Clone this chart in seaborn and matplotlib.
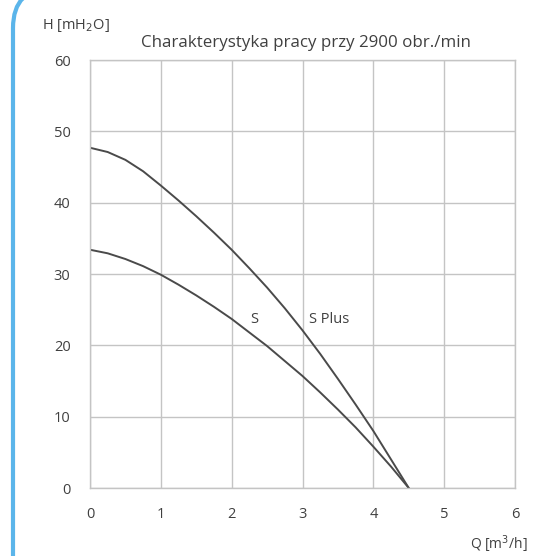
import numpy as np
import pandas as pd
import matplotlib
matplotlib.use('Agg')
import matplotlib.pyplot as plt
from matplotlib.patches import FancyBboxPatch
import seaborn as sns

# pump curves
q = [0, 0.25, 0.5, 0.75, 1, 1.25, 1.5, 1.75, 2, 2.25, 2.5, 2.75, 3, 3.25, 3.5, 3.75, 4, 4.25, 4.5]
h_s = [33.4, 32.9, 32.1, 31.1, 29.9, 28.5, 27.0, 25.4, 23.7, 21.8, 19.9, 17.8, 15.7, 13.4, 11.0, 8.5, 5.8, 3.0, 0]
h_s_plus = [47.7, 47.1, 46.0, 44.4, 42.4, 40.3, 38.1, 35.8, 33.4, 30.8, 28.1, 25.2, 22.1, 18.8, 15.3, 11.7, 8.0, 4.0, 0]
x_ticks = [0, 1, 2, 3, 4, 5, 6]
y_ticks = [0, 10, 20, 30, 40, 50, 60]

data = pd.DataFrame({
    'Q': q + q,
    'H': h_s + h_s_plus,
    'pump': ['S'] * len(q) + ['S Plus'] * len(q),
})

sns.set_style('white')
plt.rcParams['font.family'] = ['Open Sans', 'DejaVu Sans']
txt = '#404040'

fig = plt.figure(figsize=(5.38, 5.56), dpi=100)
ax = fig.add_axes([90 / 538, 1 - 488 / 556, 425 / 538, 428 / 556])

sns.lineplot(data=data, x='Q', y='H', hue='pump', palette=['#4a4a4a', '#4a4a4a'],
             linewidth=1.4, legend=False, ax=ax)

ax.set_xlim(0, 6)
ax.set_ylim(0, 60)
ax.set_xticks(x_ticks)
ax.set_yticks(y_ticks)
ax.grid(True, color='#c4c4c4', linewidth=1)
for s in ax.spines.values():
    s.set_color('#c4c4c4')
    s.set_linewidth(1)
ax.tick_params(length=0, labelsize=10.5, colors=txt)
ax.tick_params(axis='x', pad=14)
ax.tick_params(axis='y', pad=14)
ax.set_xlabel('')
ax.set_ylabel('')

ax.text(2.32, 23.6, 'S', fontsize=10.5, color=txt, ha='center', va='center')
ax.text(3.09, 23.6, 'S Plus', fontsize=10.5, color=txt, ha='left', va='center')

fig.text(42 / 538, 1 - 25 / 556, 'H [mH$_2$O]', fontsize=10.5, color=txt, va='center')
fig.text(141 / 538, 1 - 43 / 556, 'Charakterystyka pracy przy 2900 obr./min',
         fontsize=12.2, color=txt, va='center')
fig.text(470 / 538, 1 - 544 / 556, 'Q [m$^3$/h]', fontsize=10, color=txt, va='center')

# blue rounded frame on the left, drawn in pixel units
ov = fig.add_axes([0, 0, 1, 1], zorder=-1)
ov.set_xlim(0, 538)
ov.set_ylim(556, 0)
ov.axis('off')
ov.add_patch(FancyBboxPatch((13, -12), 700, 700, boxstyle='round,pad=0,rounding_size=40',
                            fill=False, edgecolor='#5bb5ea', linewidth=3))

fig.savefig('out.png', dpi=100)
